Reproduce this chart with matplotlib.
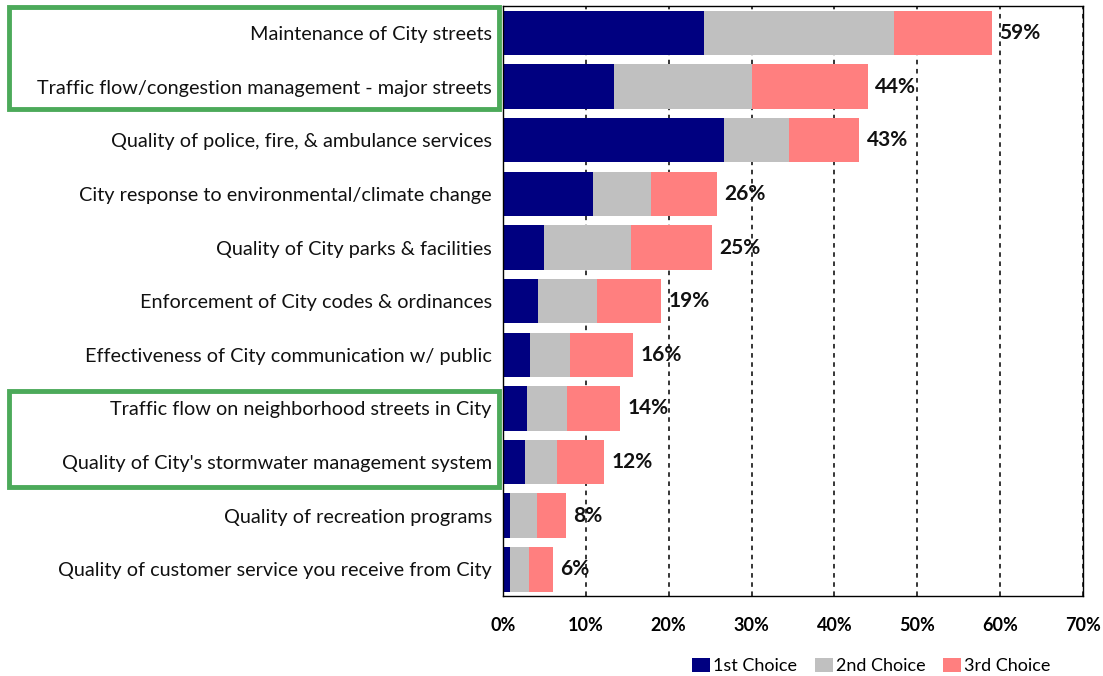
import matplotlib
matplotlib.use("Agg")
import matplotlib.pyplot as plt
import matplotlib.transforms as mtransforms
from matplotlib.patches import Rectangle, Patch
import numpy as np

plt.rcParams['font.family'] = ['Lato', 'DejaVu Sans']

categories = [
    "Maintenance of City streets",
    "Traffic flow/congestion management - major streets",
    "Quality of police, fire, & ambulance services",
    "City response to environmental/climate change",
    "Quality of City parks & facilities",
    "Enforcement of City codes & ordinances",
    "Effectiveness of City communication w/ public",
    "Traffic flow on neighborhood streets in City",
    "Quality of City's stormwater management system",
    "Quality of recreation programs",
    "Quality of customer service you receive from City",
]
first_choice = [24.2, 13.4, 26.7, 10.9, 5.0, 4.2, 3.3, 2.9, 2.7, 0.8, 0.8]
second_choice = [23.0, 16.7, 7.8, 7.0, 10.4, 7.2, 4.8, 4.8, 3.8, 3.3, 2.3]
third_choice = [11.8, 13.9, 8.5, 7.9, 9.8, 7.7, 7.6, 6.4, 5.7, 3.5, 2.9]
totals = ["59%", "44%", "43%", "26%", "25%", "19%", "16%", "14%", "12%", "8%", "6%"]
series_names = ["1st Choice", "2nd Choice", "3rd Choice"]
colors = ["#000080", "#c0c0c0", "#ff7f7f"]
highlighted_rows = [(0, 1), (7, 8)]

fig = plt.figure(figsize=(11.03, 6.76), dpi=100)
ax = fig.add_axes([0.456, 0.118, 0.526, 0.873])

y = np.arange(len(categories))
left = np.zeros(len(categories))
for vals, name, col in zip([first_choice, second_choice, third_choice], series_names, colors):
    ax.barh(y, vals, left=left, height=0.83, color=col, label=name, zorder=2)
    left = left + np.array(vals)

for yi, end, txt in zip(y, left, totals):
    ax.text(end + 0.9, yi, txt, va='center', ha='left', fontsize=15,
            fontweight='bold', color='#111111', zorder=3)

ax.set_xlim(0, 70)
ax.set_ylim(len(categories) - 0.5, -0.5)
ax.set_xticks(np.arange(0, 71, 10))
ax.set_xticklabels([f"{v}%" for v in range(0, 71, 10)], fontweight='bold', fontsize=13)
ax.set_yticks(y)
ax.set_yticklabels(categories, fontsize=14.3, color='#111111')
ax.tick_params(axis='y', length=0, pad=8)
ax.tick_params(axis='x', length=0, pad=15)
ax.xaxis.grid(True, color='black', linestyle=(0, (3, 3)), linewidth=1.1, zorder=1)
ax.set_axisbelow(True)
for s in ax.spines.values():
    s.set_color('black')
    s.set_linewidth(1.0)

# green highlight boxes around label groups
trans = mtransforms.blended_transform_factory(fig.transFigure, ax.transData)
for r0, r1 in highlighted_rows:
    top = r0 - 0.48 if r0 == 0 else r0 - 0.33
    bottom = r1 + 0.42 if r0 == 0 else r1 + 0.47
    rect = Rectangle((0.008, top), 0.444, bottom - top, transform=trans,
                     fill=False, edgecolor='#4caa5a', linewidth=3.5, clip_on=False)
    ax.add_patch(rect)

handles = [Patch(facecolor=c, label=n) for c, n in zip(colors, series_names)]
fig.legend(handles=handles, loc='center', bbox_to_anchor=(0.79, 0.015), ncol=3,
           frameon=False, fontsize=13, handlelength=1.0, handleheight=0.8,
           handletextpad=0.15, columnspacing=1.0)

fig.savefig("out.png", dpi=100)
